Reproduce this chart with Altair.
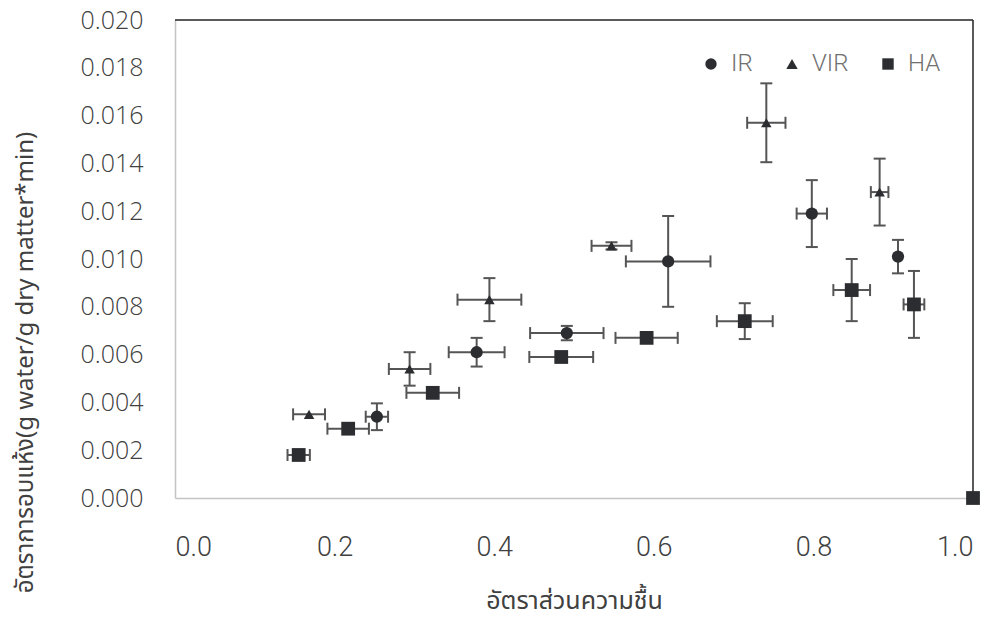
import altair as alt
import pandas as pd

# ---- data ----
ir_x = [0.253, 0.378, 0.491, 0.618, 0.798, 0.906]
ir_y = [0.0034, 0.0061, 0.0069, 0.0099, 0.0119, 0.0101]
ir_xerr = [0.014, 0.035, 0.046, 0.053, 0.019, 0.0]
ir_yerr = [0.00056, 0.0006, 0.0003, 0.0019, 0.0014, 0.0007]

vir_x = [0.168, 0.294, 0.394, 0.547, 0.741, 0.883]
vir_y = [0.0035, 0.0054, 0.0083, 0.01055, 0.0157, 0.0128]
vir_xerr = [0.020, 0.026, 0.040, 0.025, 0.024, 0.011]
vir_yerr = [0.0, 0.0007, 0.0009, 0.00015, 0.00165, 0.0014]

ha_x = [0.155, 0.217, 0.323, 0.484, 0.591, 0.714, 0.848, 0.926, 1.0]
ha_y = [0.0018, 0.0029, 0.0044, 0.0059, 0.0067, 0.0074, 0.0087, 0.0081, 0.0]
ha_xerr = [0.014, 0.026, 0.033, 0.040, 0.039, 0.035, 0.023, 0.013, 0.0]
ha_yerr = [0.0002, 0.0, 0.0, 0.0, 0.0, 0.00075, 0.0013, 0.0014, 0.0]

series_names = ["IR", "VIR", "HA"]
series_shapes = ["circle", "triangle-up", "square"]
series_sizes = [150, 110, 190]
x_ticks = [0.0, 0.2, 0.4, 0.6, 0.8, 1.0]
y_ticks = [0.0, 0.002, 0.004, 0.006, 0.008, 0.010, 0.012, 0.014, 0.016, 0.018, 0.020]
frame_top = [0.020]
frame_right = [1.0]

rows = []
for name, xs, ys, xe, ye in [
    ("IR", ir_x, ir_y, ir_xerr, ir_yerr),
    ("VIR", vir_x, vir_y, vir_xerr, vir_yerr),
    ("HA", ha_x, ha_y, ha_xerr, ha_yerr),
]:
    for x, y, dx, dy in zip(xs, ys, xe, ye):
        rows.append(dict(series=name, x=x, y=y, xlo=x - dx, xhi=x + dx,
                         ylo=y - dy, yhi=y + dy, dx=dx, dy=dy))
df = pd.DataFrame(rows)

XS = alt.Scale(domain=[0, 1], nice=False)
YS = alt.Scale(domain=[0, 0.02], nice=False)

err_color = "#555555"
mark_color = "#2b2d30"
text_color = "#404040"
thai_font = "Noto Sans Thai, Noto Sans Thai UI, Open Sans, sans-serif"

xaxis = alt.Axis(values=x_ticks, format=".1f", grid=False, ticks=False,
                 domainColor="#c4c4c4", domainWidth=1.5,
                 labelFont="Roboto", labelFontWeight=300, labelFontSize=27,
                 labelColor=text_color, labelPadding=36,
                 title="อัตราส่วนความชื้น", titleFontSize=25, titleFont=thai_font,
                 titleFontWeight="normal", titleColor=text_color, titlePadding=28)
yaxis = alt.Axis(values=y_ticks, format=".3f", grid=False, ticks=False,
                 domainColor="#c4c4c4", domainWidth=1.5,
                 labelFont="Open Sans", labelFontWeight=300, labelFontSize=25,
                 labelColor=text_color, labelPadding=32,
                 title="อัตราการอบแห้ง(g water/g dry matter*min)", titleFontSize=24,
                 titleFont=thai_font, titleFontWeight="normal",
                 titleColor=text_color, titleX=-150, titleY=342,
                 titleAlign="center", titleBaseline="middle", titleAngle=270)

base = alt.Chart(df)

hbar = base.mark_rule(color=err_color, strokeWidth=2).encode(
    x=alt.X("xlo:Q", scale=XS, axis=xaxis), x2="xhi:Q",
    y=alt.Y("y:Q", scale=YS, axis=yaxis))
vbar = base.mark_rule(color=err_color, strokeWidth=2).encode(
    x=alt.X("x:Q", scale=XS), y=alt.Y("ylo:Q", scale=YS), y2="yhi:Q")

capx_lo = base.transform_filter("datum.dx > 0").mark_rule(
    color=err_color, strokeWidth=2, yOffset=-6, y2Offset=6).encode(
    x=alt.X("xlo:Q", scale=XS), y=alt.Y("y:Q", scale=YS), y2="y:Q")
capx_hi = base.transform_filter("datum.dx > 0").mark_rule(
    color=err_color, strokeWidth=2, yOffset=-6, y2Offset=6).encode(
    x=alt.X("xhi:Q", scale=XS), y=alt.Y("y:Q", scale=YS), y2="y:Q")
capy_lo = base.transform_filter("datum.dy > 0").mark_rule(
    color=err_color, strokeWidth=2, xOffset=-6, x2Offset=6).encode(
    x=alt.X("x:Q", scale=XS), x2="x:Q", y=alt.Y("ylo:Q", scale=YS))
capy_hi = base.transform_filter("datum.dy > 0").mark_rule(
    color=err_color, strokeWidth=2, xOffset=-6, x2Offset=6).encode(
    x=alt.X("x:Q", scale=XS), x2="x:Q", y=alt.Y("yhi:Q", scale=YS))

shape_scale = alt.Scale(domain=series_names, range=series_shapes)
legend = alt.Legend(orient="none", legendX=524, legendY=32,
                    direction="horizontal", title=None,
                    labelFont="Roboto", labelFontWeight=300,
                    labelFontSize=24, labelColor="#707070",
                    symbolFillColor=mark_color, symbolStrokeColor=mark_color,
                    symbolStrokeWidth=0, symbolSize=130, labelOffset=8,
                    columnPadding=27, padding=0)

point_layers = []
for i, (name, sz) in enumerate(zip(series_names, series_sizes)):
    point_layers.append(
        base.transform_filter(alt.datum.series == name).mark_point(
            filled=True, opacity=1, color=mark_color, size=sz).encode(
            x=alt.X("x:Q", scale=XS),
            y=alt.Y("y:Q", scale=YS),
            shape=alt.Shape("series:N", scale=shape_scale,
                            legend=legend if i == 0 else None),
        )
    )

top = alt.Chart(pd.DataFrame({"y": frame_top})).mark_rule(
    color="#222222", strokeWidth=1.5).encode(y=alt.Y("y:Q", scale=YS))
right = alt.Chart(pd.DataFrame({"x": frame_right})).mark_rule(
    color="#222222", strokeWidth=1.5).encode(x=alt.X("x:Q", scale=XS))

chart = alt.layer(hbar, vbar, capx_lo, capx_hi, capy_lo, capy_hi, top, right,
                  *point_layers).properties(
    width=798, height=478,
    padding={"left": 175, "top": 20, "right": 20, "bottom": 120},
    autosize=alt.AutoSizeParams(type="none"),
    background="white",
).configure_view(stroke=None)

chart.save("out.html", embed_options={"renderer": "svg", "actions": False})
